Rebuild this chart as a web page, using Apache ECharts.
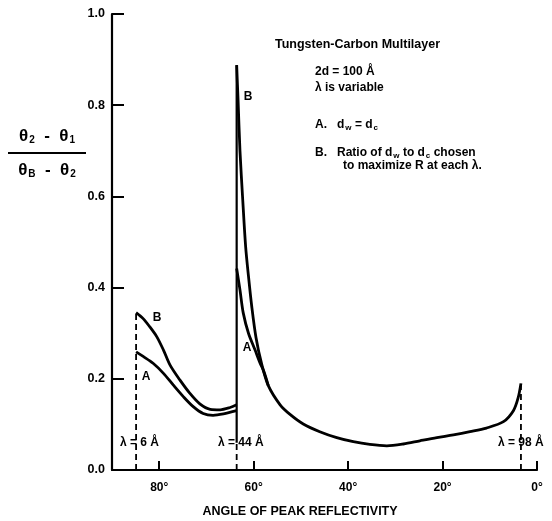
<!DOCTYPE html>
<html><head><meta charset="utf-8">
<script src="https://cdn.jsdelivr.net/npm/echarts@6/dist/echarts.min.js"></script>
<style>html,body{margin:0;padding:0;background:#fff}#c{width:552px;height:521px}</style>
</head><body><div id="c"></div>
<script>
// Data: [angle of peak reflectivity (deg), (θ2-θ1)/(θB-θ2)]
const curveB_left = [[84.9,0.345],[83.4,0.332],[82.0,0.314],[80.5,0.292],[79.1,0.263],[77.7,0.230],[75.6,0.197],[73.5,0.168],[71.4,0.145],[69.2,0.133],[67.1,0.132],[65.0,0.137],[63.6,0.143]];
const curveA_left = [[84.9,0.259],[83.4,0.249],[81.3,0.234],[79.1,0.212],[77.0,0.186],[74.9,0.161],[72.8,0.139],[70.7,0.124],[68.6,0.120],[66.4,0.123],[63.6,0.130]];
const curveB_right = [[63.6,0.888],[63.3,0.81],[62.9,0.70],[62.3,0.59],[61.7,0.49],[61.1,0.425],[60.4,0.358],[59.5,0.290],[58.3,0.232],[56.9,0.185],[54.4,0.143],[52.3,0.122],[49.5,0.101],[46.0,0.084],[42.4,0.071],[38.9,0.062],[35.4,0.056],[31.8,0.053],[28.3,0.057],[24.8,0.064],[21.2,0.071],[17.7,0.077],[14.2,0.084],[10.7,0.092],[7.1,0.106],[5.0,0.130],[4.0,0.158],[3.4,0.19]];
const curveA_right = [[63.6,0.442],[62.9,0.395],[62.2,0.344],[61.1,0.300],[59.7,0.263],[58.7,0.236],[57.8,0.215],[56.9,0.185]];
const lambdaAngles = [84.9, 63.6, 3.4];
const lambdaTops = [0.345, 0.06, 0.19];
const lambdaLabels = ['λ = 6 Å', 'λ = 44 Å', 'λ = 98 Å'];
const edgeLine = [[63.6,0.06],[63.6,0.888]];
const xTicks = [0, 20, 40, 60, 80];
const yTicks = [0, 0.2, 0.4, 0.6, 0.8, 1.0];

const chart = echarts.init(document.getElementById('c'));
const F = 'Liberation Sans, Arial, sans-serif';
const lineSeries = (data, w) => ({
  type: 'line', data, symbol: 'none', smooth: 0.3,
  lineStyle: { color: '#000', width: w || 2.8 }, z: 3, silent: true
});
const series = [
  lineSeries(curveB_left), lineSeries(curveA_left),
  lineSeries(curveB_right), lineSeries(curveA_right),
  { type: 'line', data: edgeLine, symbol: 'none', lineStyle: { color: '#000', width: 2.2 }, silent: true }
];
lambdaAngles.forEach((a, i) => {
  series.push({ type: 'line', data: [[a, 0], [a, lambdaTops[i]]], symbol: 'none',
    lineStyle: { color: '#000', width: 1.8, type: [6, 4] }, silent: true });
});

chart.setOption({
  animation: false,
  backgroundColor: '#fff',
  grid: { left: 112, right: 15, top: 14, bottom: 51 },
  xAxis: {
    type: 'value', min: 0, max: 90, inverse: true, interval: 20, position: 'bottom',
    axisLine: { onZero: false, lineStyle: { color: '#000', width: 2.2 } },
    axisTick: { inside: true, length: 9, lineStyle: { color: '#000', width: 2 } },
    axisLabel: { margin: 12, color: '#000', fontFamily: F, fontWeight: 'bold', fontSize: 12,
      formatter: v => xTicks.includes(v) ? v + '°' : '' },
    splitLine: { show: false }
  },
  yAxis: {
    type: 'value', min: 0, max: 1, interval: 0.2, position: 'left',
    axisLine: { show: true, onZero: false, lineStyle: { color: '#000', width: 2.2 } },
    axisTick: { show: true, inside: true, length: 12, lineStyle: { color: '#000', width: 2 } },
    axisLabel: { margin: 7, color: '#000', fontFamily: F, fontWeight: 'bold', fontSize: 12.5,
      formatter: v => yTicks.some(t => Math.abs(t - v) < 1e-9) ? v.toFixed(1) : '' },
    splitLine: { show: false }
  },
  series
});

const rich = {
  t: { fontFamily: F, fontWeight: 'bold', fontSize: 17, fill: '#000' },
  s: { fontFamily: F, fontWeight: 'bold', fontSize: 10, fill: '#000', padding: [9, 0, 0, 1] },
  n: { fontFamily: F, fontWeight: 'bold', fontSize: 12, fill: '#000' },
  ss: { fontFamily: F, fontWeight: 'bold', fontSize: 8, fill: '#000', padding: [5, 0, 0, 1] }
};
const plain = (x, y, text, align, size) => ({ type: 'text', x, y,
  style: { text, font: 'bold ' + (size || 12) + 'px ' + F, fill: '#000', align: align || 'left', verticalAlign: 'middle' } });
const graphic = [
  { type: 'text', x: 47, y: 136, style: { text: '{t|θ}{s|2}{t|  -  θ}{s|1}', rich, align: 'center', verticalAlign: 'middle' } },
  { type: 'line', shape: { x1: 8, y1: 153, x2: 86, y2: 153 }, style: { stroke: '#000', lineWidth: 2 } },
  { type: 'text', x: 47, y: 170, style: { text: '{t|θ}{s|B}{t|  -  θ}{s|2}', rich, align: 'center', verticalAlign: 'middle' } },
  plain(300, 512, 'ANGLE OF PEAK REFLECTIVITY', 'center', 12.5),
  plain(275, 45, 'Tungsten-Carbon Multilayer', 'left', 12.5),
  plain(315, 72, '2d = 100 Å'),
  plain(315, 88, 'λ is variable'),
  { type: 'text', x: 315, y: 125, style: { text: '{n|A.   d}{ss|w}{n| = d}{ss|c}', rich, verticalAlign: 'middle' } },
  { type: 'text', x: 315, y: 153, style: { text: '{n|B.   Ratio of d}{ss|w}{n| to d}{ss|c}{n| chosen}', rich, verticalAlign: 'middle' } },
  plain(343, 166, 'to maximize R at each λ.'),
  plain(248, 97, 'B', 'center'),
  plain(157, 318, 'B', 'center'),
  plain(146, 377, 'A', 'center'),
  plain(247, 348, 'A', 'center')
];
const lamX = [120, 218, 498];
lambdaLabels.forEach((s, i) => graphic.push(plain(lamX[i], 443, s)));
chart.setOption({ graphic });
</script>
</body></html>
